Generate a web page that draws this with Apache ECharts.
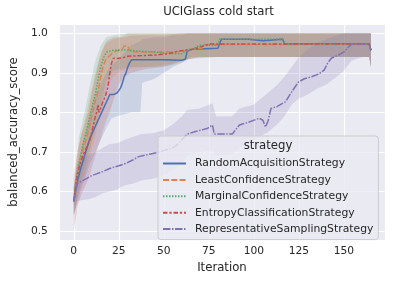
<!DOCTYPE html>
<html><head><meta charset="utf-8">
<script src="https://cdn.jsdelivr.net/npm/echarts@6/dist/echarts.min.js"></script>
<style>html,body{margin:0;padding:0;background:#fff}#c{width:393px;height:284px}</style>
</head><body><div id="c"></div>
<script>
const strategies = ['RandomAcquisitionStrategy','LeastConfidenceStrategy','MarginalConfidenceStrategy','EntropyClassificationStrategy','RepresentativeSamplingStrategy'];
const colors = ['#4c72b0','#dd8452','#55a868','#c44e52','#8172b3'];
const xTicks = [0,25,50,75,100,125,150];
const yTicks = [0.5,0.6,0.7,0.8,0.9,1.0];

// RandomAcquisitionStrategy
const randIter = [0,1,2,4,6,8,9,10,12,13,15,16,17,18,19,20,22,24,25,26,27,28,29,30,31,32,50,51,60,62,63,66,80,82,97,98,105,106,116,117,164,165];
const randMean = [0.575,0.60,0.625,0.66,0.69,0.72,0.735,0.745,0.765,0.775,0.795,0.805,0.815,0.825,0.83,0.845,0.845,0.849,0.855,0.862,0.874,0.89,0.90,0.915,0.925,0.933,0.933,0.93,0.932,0.935,0.955,0.96,0.962,0.985,0.985,0.981,0.981,0.985,0.985,0.973,0.973,0.957];
const randBandIter = [0,3,6,9,12,15,18,21,24,28,32,37,38,45,50,55,60,63,80,100,120,140,160,164,165];
const randLo = [0.54,0.59,0.63,0.67,0.70,0.73,0.76,0.785,0.79,0.795,0.80,0.80,0.875,0.885,0.90,0.915,0.925,0.935,0.94,0.94,0.94,0.94,0.94,0.94,0.915];
const randHi = [0.61,0.68,0.74,0.80,0.84,0.87,0.90,0.92,0.93,0.95,0.97,0.98,0.985,0.99,0.99,0.995,0.995,1.0,1.0,1.0,1.0,1.0,1.0,1.0,1.0];

// LeastConfidenceStrategy
const lcIter = [0,1,2,3,4,5,6,7,8,9,10,11,12,13,14,15,16,17,18,19,21,23,25,27,28,30,31,35,55,62,65,71,72,164,165];
const lcMean = [0.575,0.61,0.645,0.665,0.685,0.705,0.72,0.735,0.75,0.77,0.79,0.81,0.83,0.845,0.865,0.89,0.91,0.925,0.935,0.94,0.948,0.954,0.957,0.96,0.968,0.968,0.955,0.953,0.953,0.955,0.96,0.962,0.972,0.972,0.957];
const lcBandIter = [0,3,6,9,12,15,18,22,26,30,40,50,60,65,80,120,164,165];
const lcLo = [0.54,0.60,0.64,0.69,0.74,0.80,0.86,0.89,0.905,0.91,0.915,0.92,0.93,0.94,0.94,0.94,0.94,0.915];
const lcHi = [0.61,0.72,0.78,0.84,0.90,0.95,0.975,0.985,0.99,1.0,1.0,1.0,1.0,1.0,1.0,1.0,1.0,1.0];

// MarginalConfidenceStrategy
const mcIter = [0,1,2,3,4,5,6,7,8,9,10,11,12,13,14,15,16,17,18,20,22,30,35,45,50,55,60,62,66,70,80,81,116,117,164,165];
const mcMean = [0.575,0.615,0.65,0.675,0.695,0.715,0.735,0.75,0.77,0.79,0.81,0.83,0.845,0.87,0.895,0.915,0.93,0.943,0.952,0.955,0.957,0.958,0.955,0.953,0.95,0.948,0.948,0.955,0.96,0.97,0.97,0.985,0.985,0.973,0.973,0.957];
const mcBandIter = [0,3,6,9,12,15,18,22,30,45,55,62,66,80,120,164,165];
const mcLo = [0.54,0.61,0.66,0.71,0.76,0.82,0.88,0.905,0.915,0.915,0.92,0.93,0.94,0.94,0.94,0.94,0.915];
const mcHi = [0.61,0.74,0.80,0.87,0.93,0.97,0.99,0.995,1.0,1.0,1.0,1.0,1.0,1.0,1.0,1.0,1.0];

// EntropyClassificationStrategy
const ecIter = [0,1,2,3,4,5,6,7,8,9,10,11,12,13,13.5,14,15,16,17.5,19,20,21,22,24,27,30,45,52,58,66,72,76,164,165];
const ecMean = [0.575,0.61,0.64,0.66,0.675,0.69,0.70,0.71,0.72,0.73,0.75,0.77,0.79,0.805,0.82,0.80,0.81,0.825,0.84,0.865,0.90,0.925,0.937,0.936,0.938,0.942,0.945,0.948,0.955,0.96,0.968,0.973,0.973,0.957];
const ecBandIter = [0,2,4,6,8,10,12,14,16,18,20,22,25,28,32,40,50,60,70,120,164,165];
const ecLo = [0.50,0.56,0.59,0.61,0.63,0.66,0.69,0.72,0.75,0.78,0.80,0.83,0.87,0.89,0.90,0.91,0.915,0.93,0.94,0.94,0.94,0.915];
const ecHi = [0.64,0.70,0.74,0.77,0.80,0.85,0.89,0.93,0.96,0.98,0.985,0.99,0.99,0.99,0.995,0.995,0.995,1.0,1.0,1.0,1.0,1.0];

// RepresentativeSamplingStrategy
const rsIter = [0,1,2,4,6,8,10,13,16,20,25,29,33,36,40,44,48,51,55,58,60,63,68,74,77,78,88,89,92,97,103,105,106.5,108,109.5,113,117.6,121,124.8,128,132,136,139,141,143,147,150,153.6,155,164,165];
const rsMean = [0.575,0.60,0.62,0.625,0.63,0.635,0.64,0.645,0.65,0.658,0.665,0.671,0.68,0.688,0.692,0.696,0.70,0.705,0.71,0.72,0.73,0.745,0.752,0.759,0.768,0.745,0.745,0.75,0.768,0.775,0.785,0.78,0.763,0.78,0.81,0.815,0.827,0.852,0.877,0.885,0.89,0.897,0.907,0.925,0.937,0.945,0.953,0.97,0.973,0.973,0.957];
const rsBandIter = [0,2,5,8,12,16,20,24,28,33,38,44,50,55,60,63,70,77,79,88,92,100,108,113,117,121,125,130,135,140,146,150,154,160,164,165];
const rsLo = [0.54,0.575,0.578,0.58,0.585,0.595,0.60,0.605,0.615,0.62,0.628,0.632,0.64,0.655,0.67,0.69,0.70,0.705,0.69,0.695,0.71,0.73,0.75,0.77,0.79,0.82,0.835,0.845,0.86,0.87,0.89,0.905,0.93,0.94,0.94,0.915];
const rsHi = [0.61,0.67,0.685,0.69,0.70,0.71,0.72,0.722,0.73,0.738,0.745,0.747,0.755,0.77,0.79,0.806,0.81,0.823,0.79,0.79,0.81,0.82,0.85,0.87,0.89,0.915,0.94,0.96,0.975,0.985,0.995,1.0,1.0,1.0,1.0,1.0];

const FONT = 'DejaVu Sans';
const TXT = '#262626';
const dashes = ['solid',[6,2.25],[1.5,1.5],[4.5,1.875,2.25,1.875],[7.5,1.5,1.5,1.5]];
const lines = [[randIter,randMean],[lcIter,lcMean],[mcIter,mcMean],[ecIter,ecMean],[rsIter,rsMean]];
const bands = [[randBandIter,randLo,randHi],[lcBandIter,lcLo,lcHi],[mcBandIter,mcLo,mcHi],[ecBandIter,ecLo,ecHi],[rsBandIter,rsLo,rsHi]];

const series = [];
bands.forEach(function(b, k){
  const xs=b[0], lo=b[1], hi=b[2], col=colors[k];
  series.push({
    type:'custom', name: strategies[k]+' band', silent:true, z:1, clip:false,
    data:[[xs[0], lo[0]]],
    renderItem:function(params, api){
      const pts=[];
      for(let i=0;i<xs.length;i++) pts.push(api.coord([xs[i], hi[i]]));
      for(let i=xs.length-1;i>=0;i--) pts.push(api.coord([xs[i], lo[i]]));
      return {type:'polygon', shape:{points:pts}, style:{fill:col, opacity:0.2}};
    }
  });
});
lines.forEach(function(l, k){
  series.push({
    type:'line', name: strategies[k], symbol:'none', showSymbol:false, z:3,
    data: l[0].map(function(x,i){return [x, l[1][i]];}),
    lineStyle:{color:colors[k], width:1.5, type:dashes[k]},
    itemStyle:{color:colors[k]}
  });
});

const chart = echarts.init(document.getElementById('c'), null, {renderer:'canvas'});
chart.setOption({
  animation:false,
  backgroundColor:'#ffffff',
  grid:{left:52, right:8, top:24, bottom:44, show:true, backgroundColor:'#eaeaf2', borderWidth:0},
  xAxis:{
    type:'value', min:-8.25, max:172.8, minInterval:25, maxInterval:25,
    axisLine:{show:false}, axisTick:{show:false},
    splitLine:{show:true, lineStyle:{color:'#ffffff', width:1.1}},
    axisLabel:{showMinLabel:false, showMaxLabel:false, fontFamily:FONT, fontSize:10.7, color:TXT, margin:6,
      formatter:function(v){return xTicks.indexOf(Math.round(v))>=0 && Math.abs(v-Math.round(v))<1e-6 ? String(Math.round(v)) : '';}},
    name:'Iteration', nameLocation:'middle', nameGap:22,
    nameTextStyle:{fontFamily:FONT, fontSize:11.7, color:TXT}
  },
  yAxis:{
    type:'value', min:0.477, max:1.0236, minInterval:0.1, maxInterval:0.1,
    axisLine:{show:false}, axisTick:{show:false},
    splitLine:{show:true, lineStyle:{color:'#ffffff', width:1.1}},
    axisLabel:{showMinLabel:false, showMaxLabel:false, fontFamily:FONT, fontSize:10.7, color:TXT, margin:11,
      formatter:function(v){return yTicks.some(function(t){return Math.abs(t-v)<1e-6;}) ? v.toFixed(1) : '';}},
    name:'balanced_accuracy_score', nameLocation:'middle', nameGap:33,
    nameTextStyle:{fontFamily:FONT, fontSize:11.7, color:TXT}
  },
  legend:{
    data:strategies, orient:'vertical', left:158, top:136,
    itemWidth:23, itemHeight:10, itemGap:5.4,
    padding:[22,5,5,4],
    backgroundColor:'rgba(234,234,242,0.8)', borderColor:'#cccccc', borderWidth:1, borderRadius:3,
    itemStyle:{opacity:0, borderWidth:0},
    textStyle:{fontFamily:FONT, fontSize:10.8, color:TXT, padding:[0,0,0,4]},
    selectedMode:false, z:10
  },
  graphic:[
    {type:'text', x:218.5, y:12, z:100, style:{text:'UCIGlass cold start', textAlign:'center', textVerticalAlign:'middle', fontFamily:FONT, fontSize:11.7, fill:TXT}},
    {type:'text', x:268, y:146, z:100, style:{text:'strategy', textAlign:'center', textVerticalAlign:'middle', fontFamily:FONT, fontSize:11.7, fill:TXT}}
  ],
  series:series
});
</script></body></html>
